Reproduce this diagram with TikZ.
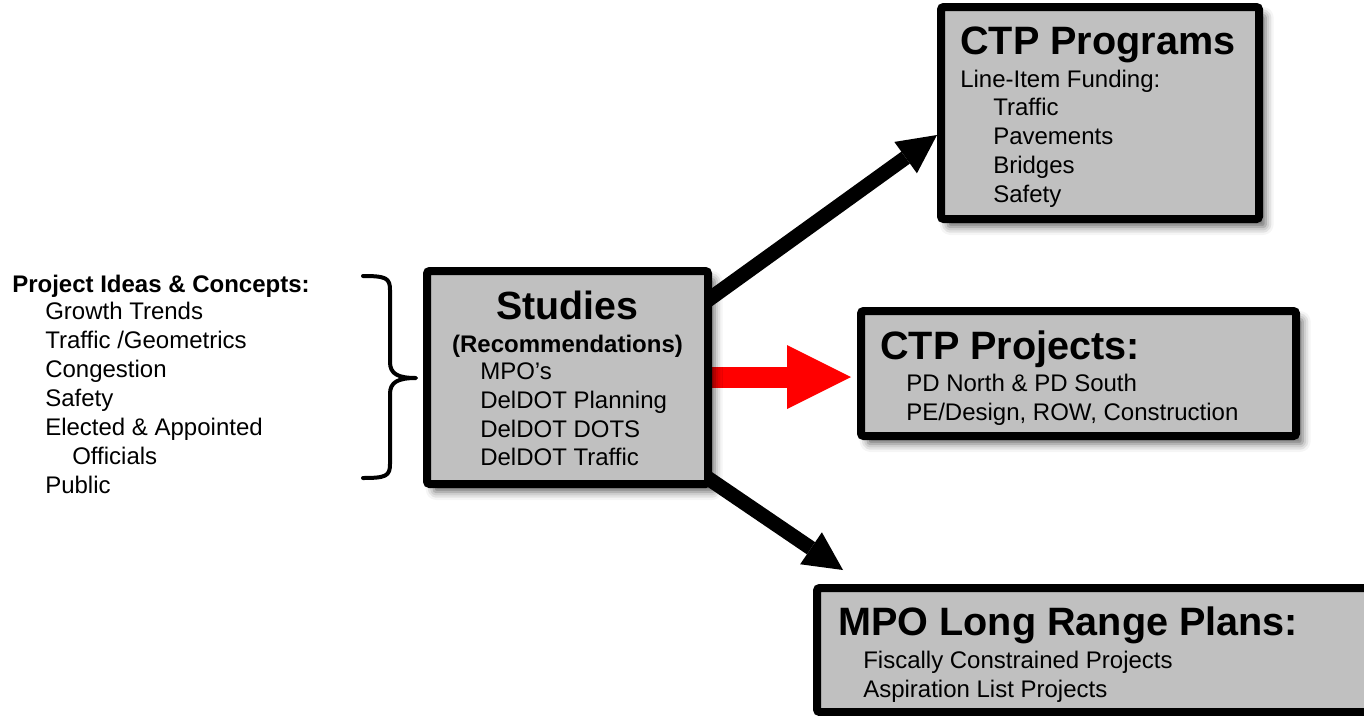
\documentclass[tikz,border=0pt]{standalone}
\usepackage{fontspec}
\setmainfont{Liberation Sans}
\usetikzlibrary{arrows.meta,shadows.blur,backgrounds}
\definecolor{boxgray}{HTML}{C0C0C0}
\begin{document}
\begin{tikzpicture}[x=0.75pt,y=-0.75pt,
  box/.style={draw=black, line width=6pt, fill=boxgray, rounded corners=2pt, inner sep=0pt,
    blur shadow={shadow xshift=5pt, shadow yshift=-6pt, shadow blur radius=6pt, shadow opacity=60}},
  txt/.style={anchor=base west, inner sep=0pt, font=\fontsize{18pt}{21.75pt}\selectfont},
  btxt/.style={anchor=base, inner sep=0pt, font=\fontsize{18pt}{21.75pt}\selectfont\bfseries},
  ttl/.style={anchor=base west, inner sep=0pt, font=\fontsize{29.7pt}{34pt}\selectfont\bfseries},
  barrow/.style={draw=black, line width=11pt, -{Triangle[length=29pt,width=29pt,line width=0pt]}},
  rarrow/.style={draw=red, line width=15.75pt, -{Triangle[length=48pt,width=48pt,line width=0pt]}},
  bracestyle/.style={draw=black, line width=3pt, line cap=round, line join=round},
]
\useasboundingbox (0,0) rectangle (1364,715);

% boxes
\node[box, minimum width=210.75pt, minimum height=159.75pt] (studies) at (567.5,377.5) {};
\node[box, minimum width=238.5pt, minimum height=159pt] (prog) at (1100,113) {};
\node[box, minimum width=326.25pt, minimum height=93.75pt] (proj) at (1078.5,373.5) {};
\node[box, minimum width=432pt, minimum height=93pt] (mpo) at (1105,650) {};

% connector ends
\coordinate (s1) at (690,313);
\coordinate (s2) at (690,377);
\coordinate (t2) at (851,377);
\coordinate (s3) at (690,466);
\coordinate (t3) at (843,570);

\begin{scope}[on background layer]
  \draw[barrow] (s1) -- (prog.west |- 0,135);
  \draw[rarrow] (s2) -- (t2);
  \draw[barrow] (s3) -- (t3);
\end{scope}

% brace
\draw[bracestyle] (363,276) .. controls (386,276) and (390,278) .. (390,290)
  -- (390,362) .. controls (390,374) and (398,378) .. (416,378)
  .. controls (398,378) and (390,382) .. (390,394)
  -- (390,464) .. controls (390,476) and (386,478) .. (363,478);

% left list
\node[txt, font=\fontsize{18pt}{21.75pt}\selectfont\bfseries] (l0) at (12,292) {Project Ideas \& Concepts:};
\node[txt] (l1) at (45,319) {Growth Trends};
\node[txt] (l2) at (45,348) {Traffic /Geometrics};
\node[txt] (l3) at (45,377) {Congestion};
\node[txt] (l4) at (45,406) {Safety};
\node[txt] (l5) at (45,435) {Elected \& Appointed};
\node[txt] (l6) at (72,464) {Officials};
\node[txt] (l7) at (45,493) {Public};

% studies text
\node[anchor=base, inner sep=0pt, font=\fontsize{29.5pt}{34pt}\selectfont\bfseries] (st0) at (567.5,319) {Studies};
\node[btxt] (st1) at (567.5,352) {(Recommendations)};
\node[txt] (st2) at (480,379) {MPO’s};
\node[txt] (st3) at (480,408) {DelDOT Planning};
\node[txt] (st4) at (480,437) {DelDOT DOTS};
\node[txt] (st5) at (480,465) {DelDOT Traffic};

% CTP programs text
\node[ttl] (pg0) at (960,54) {CTP Programs};
\node[txt] (pg1) at (960,87) {Line-Item Funding:};
\node[txt] (pg2) at (993,115) {Traffic};
\node[txt] (pg3) at (993,144) {Pavements};
\node[txt] (pg4) at (993,173) {Bridges};
\node[txt] (pg5) at (993,202) {Safety};

% CTP projects text
\node[ttl] (pj0) at (880,359) {CTP Projects:};
\node[txt] (pj1) at (906,391) {PD North \& PD South};
\node[txt] (pj2) at (906,420) {PE/Design, ROW, Construction};

% MPO text
\node[ttl] (mp0) at (838,635) {MPO Long Range Plans:};
\node[txt] (mp1) at (863,668) {Fiscally Constrained Projects};
\node[txt] (mp2) at (863,697) {Aspiration List Projects};
\end{tikzpicture}
\end{document}
